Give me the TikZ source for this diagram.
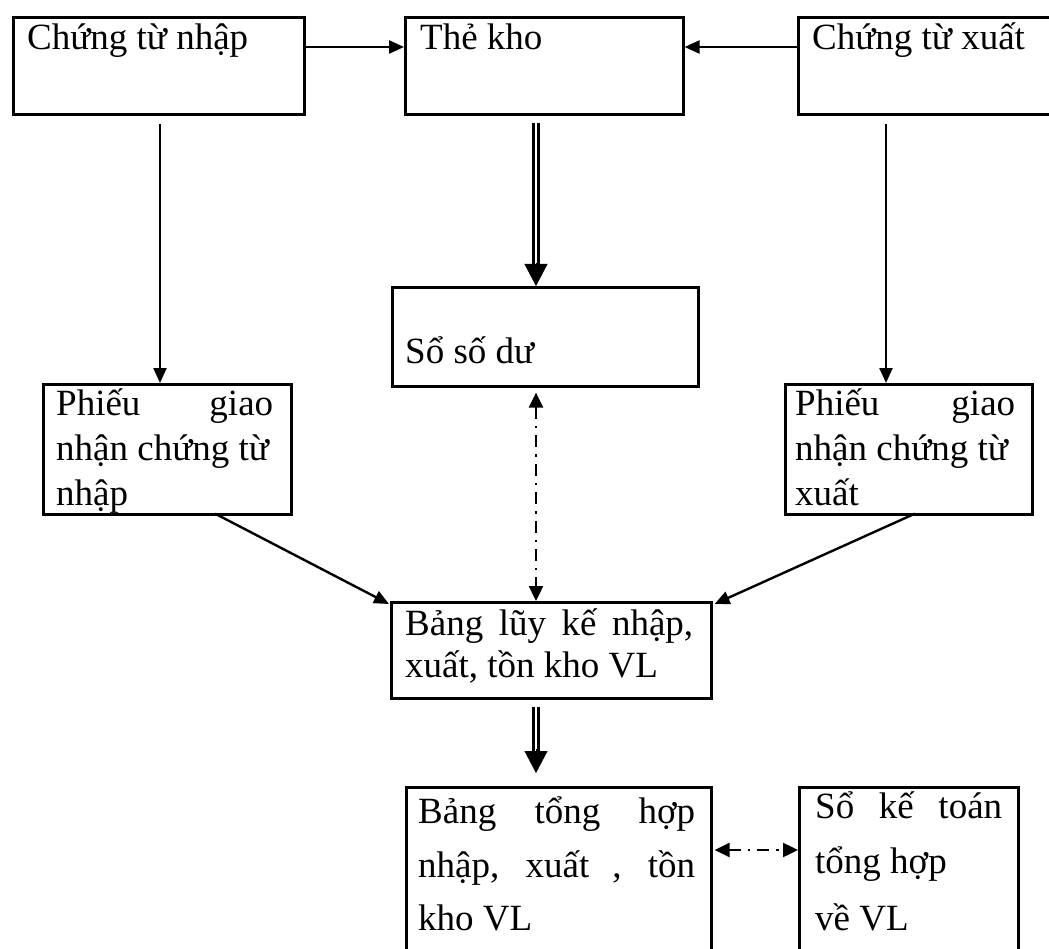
\documentclass[tikz,border=0pt]{standalone}
\usepackage{fontspec}
\setmainfont{Liberation Serif}
\usetikzlibrary{arrows.meta,calc}

\begin{document}
\begin{tikzpicture}[x=1pt,y=-1pt,
  box/.style={draw, line width=2.6pt, inner sep=0pt, anchor=north west},
  txt/.style={inner sep=0pt, anchor=base west, font=\fontsize{37}{44}\selectfont},
  flow/.style={line width=2.4pt, -{Triangle[length=15pt,width=13pt]}},
  gapstart/.style={shorten <=8pt},
  dshaft/.style={line width=2.7pt, double distance=2.8pt, double=white},
  bighead/.style={line width=0.4pt, -{Triangle[length=22pt,width=23pt]}},
  dashdot/.style={line width=2.4pt, dash pattern=on 12pt off 7pt on 2.4pt off 7pt,
    {Triangle[length=15pt,width=14pt]}-{Triangle[length=15pt,width=14pt]}},
]
\useasboundingbox (0,0) rectangle (1049,949);
\clip (0,0) rectangle (1049,949);

% boxes
\node[box, minimum width=291pt, minimum height=97pt]  (A) at (12,16)   {};
\node[box, minimum width=278pt, minimum height=97pt]  (B) at (404,16)  {};
\node[box, minimum width=270pt, minimum height=97pt]  (C) at (797,16)  {};
\node[box, minimum width=306pt, minimum height=99pt]  (D) at (391,286) {};
\node[box, minimum width=248pt, minimum height=130pt] (E) at (42,383)  {};
\node[box, minimum width=247pt, minimum height=130pt] (F) at (784,383) {};
\node[box, minimum width=320pt, minimum height=96pt]  (G) at (390,601) {};
\node[box, minimum width=305pt, minimum height=200pt] (H) at (405,786) {};
\node[box, minimum width=219pt, minimum height=200pt] (I) at (798,786) {};

% texts
\node[txt] (tA) at (27,50)  {Chứng từ nhập};
\node[txt] (tB) at (420,50) {Thẻ kho};
\node[txt] (tC) at (812,50) {Chứng từ xuất};
\node[txt] (tD) at (405,363) {Sổ số dư};
\node[txt] (tE1) at (56,415) {\makebox[217pt][s]{Phiếu giao}};
\node[txt] (tE2) at (56,460) {nhận chứng từ};
\node[txt] (tE3) at (56,505) {nhập};
\node[txt] (tF1) at (795,415) {\makebox[220pt][s]{Phiếu giao}};
\node[txt] (tF2) at (795,460) {nhận chứng từ};
\node[txt] (tF3) at (795,505) {xuất};
\node[txt] (tG1) at (405,635) {\makebox[288pt][s]{Bảng lũy kế nhập,}};
\node[txt] (tG2) at (405,677) {xuất, tồn kho VL};
\node[txt] (tH1) at (418,823) {\makebox[277pt][s]{Bảng tổng hợp}};
\node[txt] (tH2) at (418,877) {\makebox[277pt][s]{nhập, xuất , tồn}};
\node[txt] (tH3) at (418,930) {kho VL};
\node[txt] (tI1) at (815,818) {\makebox[187pt][s]{Sổ kế toán}};
\node[txt] (tI2) at (815,873) {tổng hợp};
\node[txt] (tI3) at (815,930) {về VL};

% guide coordinates for the connector lines
\coordinate (r1) at (0,47);
\coordinate (r2) at (0,850);
\coordinate (xl) at (160,0);
\coordinate (xm) at (536,0);
\coordinate (xr) at (886,0);

% top row
\draw[flow] (A.east |- r1) -- (B.west |- r1);
\draw[flow] (C.west |- r1) -- (B.east |- r1);

% side columns
\draw[flow, gapstart] (xl |- A.south) -- (xl |- E.north);
\draw[flow, gapstart] (xr |- C.south) -- (xr |- F.north);

% Thẻ kho => Sổ số dư
\draw[dshaft] ($(xm |- B.south)+(0,7)$) -- ($(xm |- D.north)+(0,-20)$);
\draw[bighead] ($(xm |- D.north)+(0,-23)$) -- (xm |- D.north);

% Sổ số dư <-> Bảng lũy kế
\draw[dashdot, shorten <=5pt] (xm |- D.south) -- (xm |- G.north);

% diagonals into Bảng lũy kế
\draw[flow] ($(E.south west)+(173,-2)$) -- ($(G.north west)+(-1,3)$);
\draw[flow] ($(F.south west)+(131,-2)$) -- ($(G.north east)+(2,3)$);

% Bảng lũy kế => Bảng tổng hợp
\draw[dshaft] ($(xm |- G.south)+(0,7)$) -- ($(xm |- H.north)+(0,-34)$);
\draw[bighead] ($(xm |- H.north)+(0,-37)$) -- ($(xm |- H.north)+(0,-13)$);

% Bảng tổng hợp <-> Sổ kế toán tổng hợp
\draw[dashdot] ($(H.east |- r2)+(2,0)$) -- (I.west |- r2);
\end{tikzpicture}
\end{document}
